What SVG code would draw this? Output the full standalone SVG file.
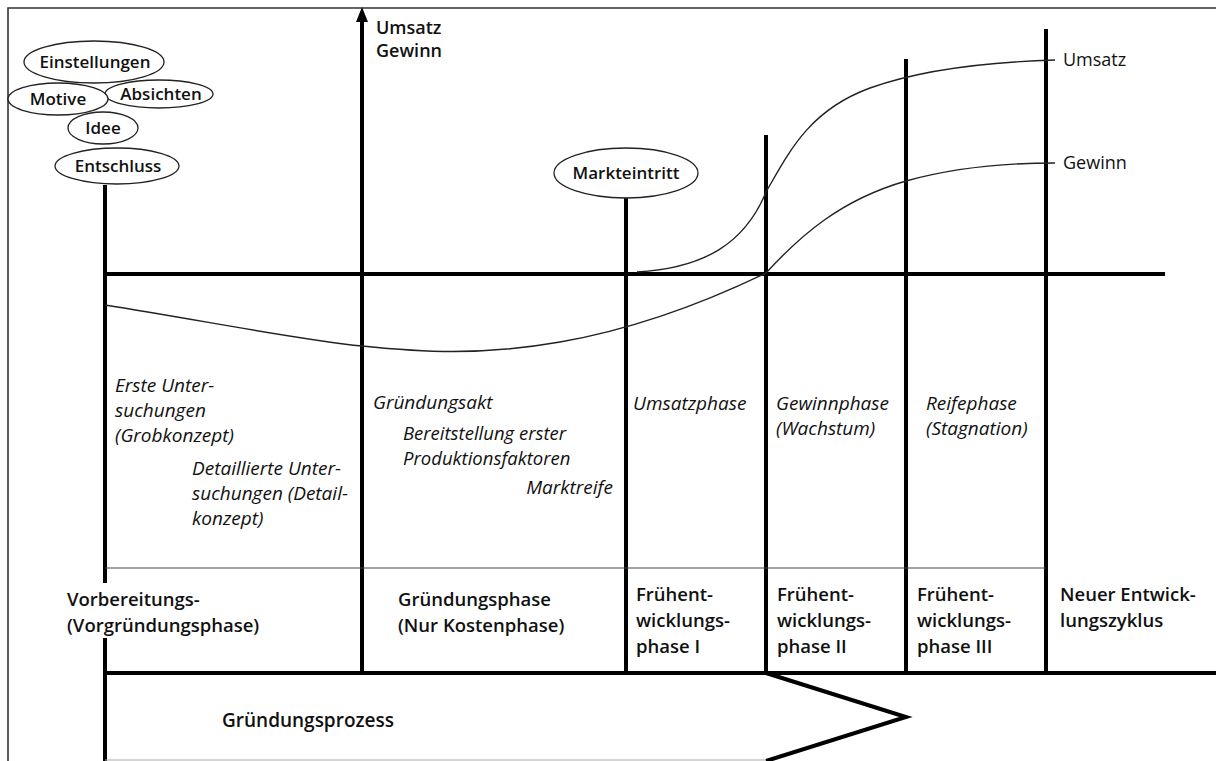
<svg xmlns="http://www.w3.org/2000/svg" width="1216" height="761" viewBox="0 0 1216 761">
<style>
.thick{stroke:#000;stroke-width:4;fill:none}
.thin{stroke:#222;stroke-width:1.4;fill:none}
.border{stroke:#333;stroke-width:1.6;fill:none}
.ell{fill:#fff;stroke:#222;stroke-width:1.3}
text{font-family:"Open Sans","Liberation Sans",sans-serif;fill:#111}
.eb{font-weight:600;font-size:17px;text-anchor:middle}
.it{font-style:italic;font-size:19px}
.lb{font-weight:600;font-size:18.5px}
.ax{font-weight:600;font-size:18px}
.rg{font-size:18px}
</style>
<rect x="0" y="0" width="1216" height="761" fill="#fff"/>
<g id="frame">
<polyline class="border" points="8,761 8,8 1216,8"/>
</g>
<g id="connectors">
<line class="thick" x1="105" y1="185" x2="105" y2="583"/>
<line class="thick" x1="105" y1="638" x2="105" y2="761"/>
<line class="thick" x1="103" y1="274" x2="1165" y2="274"/>
<line class="thick" x1="362" y1="18" x2="362" y2="672"/>
<polygon points="362,7 356,22 368,22" fill="#000"/>
<line class="thick" x1="626" y1="198" x2="626" y2="672"/>
<line class="thick" x1="766" y1="135" x2="766" y2="672"/>
<line class="thick" x1="906" y1="59" x2="906" y2="672"/>
<line class="thick" x1="1046" y1="29" x2="1046" y2="672"/>
<line stroke="#444" stroke-width="1.2" x1="105" y1="568" x2="1046" y2="568"/>
<line class="thick" x1="103" y1="673" x2="1216" y2="673"/>
<polyline class="thick" points="766,673 906,717 766,761"/>
<line stroke="#aaa" stroke-width="1.2" x1="105" y1="760" x2="766" y2="760"/>
<path class="thin" d="M105,305 C200,320 300,340 362,346 C420,352 480,356 560,342 C640,328 710,300 766,273 C800,236 840,200 906,181 C960,166 1010,163 1055,163"/>
<path class="thin" d="M637,272 C705,268 745,243 766,192 C790,150 810,110 870,88 C920,70 990,62 1055,60"/>
</g>
<g id="n-einstellungen"><ellipse class="ell" cx="94" cy="62" rx="70" ry="21"/><text class="eb" x="95" y="68">Einstellungen</text></g>
<g id="n-absichten"><ellipse class="ell" cx="159" cy="94" rx="54" ry="14"/><text class="eb" x="161" y="100">Absichten</text></g>
<g id="n-motive"><ellipse class="ell" cx="58" cy="99" rx="50" ry="16"/><text class="eb" x="58" y="105">Motive</text></g>
<g id="n-idee"><ellipse class="ell" cx="103" cy="128" rx="35" ry="16"/><text class="eb" x="103" y="134">Idee</text></g>
<g id="n-entschluss"><ellipse class="ell" cx="117" cy="166" rx="62" ry="18"/><text class="eb" x="118" y="172">Entschluss</text></g>
<g id="n-markteintritt"><ellipse class="ell" cx="626" cy="173" rx="72" ry="25"/><text class="eb" x="626" y="179">Markteintritt</text></g>
<g id="axis-label"><text class="ax" x="376" y="34">Umsatz</text><text class="ax" x="376" y="57">Gewinn</text></g>
<g id="curve-labels"><text class="rg" x="1063" y="66">Umsatz</text><text class="rg" x="1063" y="169">Gewinn</text></g>
<g id="phase-texts">
<text class="it" x="115" y="392">Erste Unter-</text>
<text class="it" x="115" y="417">suchungen</text>
<text class="it" x="115" y="442">(Grobkonzept)</text>
<text class="it" x="192" y="475">Detaillierte Unter-</text>
<text class="it" x="192" y="500">suchungen (Detail-</text>
<text class="it" x="192" y="525">konzept)</text>
<text class="it" x="373" y="409">Gründungsakt</text>
<text class="it" x="403" y="440" style="font-size:18.5px">Bereitstellung erster</text>
<text class="it" x="403" y="465" style="font-size:18.5px">Produktionsfaktoren</text>
<text class="it" x="613" y="494" text-anchor="end">Marktreife</text>
<text class="it" x="633" y="410">Umsatzphase</text>
<text class="it" x="776" y="410">Gewinnphase</text>
<text class="it" x="776" y="435">(Wachstum)</text>
<text class="it" x="926" y="410">Reifephase</text>
<text class="it" x="926" y="435">(Stagnation)</text>
</g>
<g id="phase-names">
<text class="lb" x="67" y="606">Vorbereitungs-</text>
<text class="lb" x="67" y="632">(Vorgründungsphase)</text>
<text class="lb" x="398" y="606">Gründungsphase</text>
<text class="lb" x="398" y="632">(Nur Kostenphase)</text>
<text class="lb" x="636" y="601">Frühent-</text>
<text class="lb" x="636" y="627">wicklungs-</text>
<text class="lb" x="636" y="653">phase I</text>
<text class="lb" x="777" y="601">Frühent-</text>
<text class="lb" x="777" y="627">wicklungs-</text>
<text class="lb" x="777" y="653">phase II</text>
<text class="lb" x="917" y="601">Frühent-</text>
<text class="lb" x="917" y="627">wicklungs-</text>
<text class="lb" x="917" y="653">phase III</text>
<text class="lb" x="1060" y="601">Neuer Entwick-</text>
<text class="lb" x="1060" y="627">lungszyklus</text>
</g>
<g id="n-gruendungsprozess"><text class="lb" x="222" y="727" style="font-size:19px">Gründungsprozess</text></g>
</svg>
